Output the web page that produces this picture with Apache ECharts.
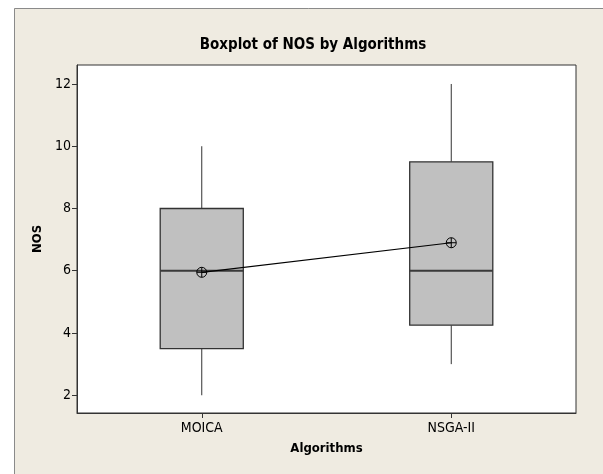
<!DOCTYPE html>
<html>
<head>
<meta charset="utf-8">
<script src="https://cdn.jsdelivr.net/npm/echarts@6/dist/echarts.min.js"></script>
<style>
html,body{margin:0;padding:0;background:#fff;}
#chart{width:603px;height:474px;}
</style>
</head>
<body>
<div id="chart"></div>
<script>
const categories = ['MOICA', 'NSGA-II'];
const whiskerLow = [2, 3];
const q1Values = [3.5, 4.25];
const medianValues = [6, 6];
const q3Values = [8, 9.5];
const whiskerHigh = [10, 12];
const meanValues = [5.95, 6.9];
const yTicks = [2, 4, 6, 8, 10, 12];

const boxData = categories.map((c, i) => [i, whiskerLow[i], q1Values[i], medianValues[i], q3Values[i], whiskerHigh[i]]);

const FONT = '"DejaVu Sans Condensed", "DejaVu Sans", sans-serif';

function renderBox(params, api) {
  const idx = api.value(0);
  const pMin = api.coord([idx, api.value(1)]);
  const pQ1 = api.coord([idx, api.value(2)]);
  const pMed = api.coord([idx, api.value(3)]);
  const pQ3 = api.coord([idx, api.value(4)]);
  const pMax = api.coord([idx, api.value(5)]);
  const halfW = api.size([1, 0])[0] * 0.333 / 2;
  const lineStyle = { stroke: '#333', lineWidth: 1 };
  return {
    type: 'group',
    children: [
      { type: 'line', shape: { x1: pMax[0], y1: pMax[1], x2: pQ3[0], y2: pQ3[1] }, style: lineStyle },
      { type: 'line', shape: { x1: pQ1[0], y1: pQ1[1], x2: pMin[0], y2: pMin[1] }, style: lineStyle },
      { type: 'rect', shape: { x: pQ3[0] - halfW, y: pQ3[1], width: 2 * halfW, height: pQ1[1] - pQ3[1] },
        style: { fill: '#C0C0C0', stroke: '#333', lineWidth: 1.3 } },
      { type: 'line', shape: { x1: pMed[0] - halfW, y1: pMed[1], x2: pMed[0] + halfW, y2: pMed[1] },
        style: { stroke: '#3a3a3a', lineWidth: 2 } }
    ]
  };
}

const chart = echarts.init(document.getElementById('chart'), null, { renderer: 'canvas' });
chart.setOption({
  animation: false,
  backgroundColor: '#EFEBE1',
  graphic: [
    { type: 'rect', shape: { x: 0, y: 0, width: 603, height: 8 }, style: { fill: '#fff' }, silent: true },
    { type: 'rect', shape: { x: 0, y: 0, width: 14, height: 474 }, style: { fill: '#fff' }, silent: true },
    { type: 'line', shape: { x1: 14.5, y1: 8.5, x2: 603, y2: 8.5 }, style: { stroke: '#8a8a8a', lineWidth: 1 }, silent: true },
    { type: 'line', shape: { x1: 14.5, y1: 8.5, x2: 14.5, y2: 474 }, style: { stroke: '#8a8a8a', lineWidth: 1 }, silent: true }
  ],
  title: {
    text: 'Boxplot of NOS by Algorithms',
    left: 308,
    textAlign: 'center',
    top: 33,
    textStyle: { fontFamily: FONT, fontSize: 15, fontWeight: 'bold', color: '#000' }
  },
  grid: {
    left: 77, top: 65, right: 27, bottom: 61,
    show: true, backgroundColor: '#fff', borderColor: '#333', borderWidth: 1
  },
  xAxis: {
    type: 'category',
    data: categories,
    boundaryGap: true,
    name: 'Algorithms',
    nameLocation: 'middle',
    nameGap: 29,
    nameTextStyle: { fontFamily: FONT, fontSize: 13, fontWeight: 'bold', color: '#000' },
    axisLine: { show: true, lineStyle: { color: '#333' } },
    axisTick: { show: true, alignWithLabel: true, length: 5, lineStyle: { color: '#333' } },
    axisLabel: { fontFamily: FONT, fontSize: 14, color: '#000', margin: 8 },
    splitLine: { show: false }
  },
  yAxis: {
    type: 'value',
    min: 1.43,
    max: 12.61,
    name: 'NOS',
    nameLocation: 'middle',
    nameGap: 33,
    nameTextStyle: { fontFamily: FONT, fontSize: 13, fontWeight: 'bold', color: '#000' },
    axisLine: { show: true, lineStyle: { color: '#333' } },
    axisTick: { show: true, length: 5, customValues: yTicks, lineStyle: { color: '#333' } },
    axisLabel: { fontFamily: FONT, fontSize: 14, color: '#000', margin: 6, customValues: yTicks },
    splitLine: { show: false }
  },
  series: [
    {
      type: 'custom',
      renderItem: renderBox,
      data: boxData,
      encode: { x: 0, y: [1, 2, 3, 4, 5] },
      z: 2
    },
    {
      type: 'line',
      data: meanValues,
      symbol: 'path://M0,-10A10,10 0 1,1 0,10A10,10 0 1,1 0,-10Z M-10,0L10,0 M0,-10L0,10',
      symbolSize: 10,
      itemStyle: { color: 'rgba(0,0,0,0)', borderColor: '#000', borderWidth: 1 },
      lineStyle: { color: '#000', width: 1.2 },
      z: 5
    }
  ]
});
</script>
</body>
</html>
